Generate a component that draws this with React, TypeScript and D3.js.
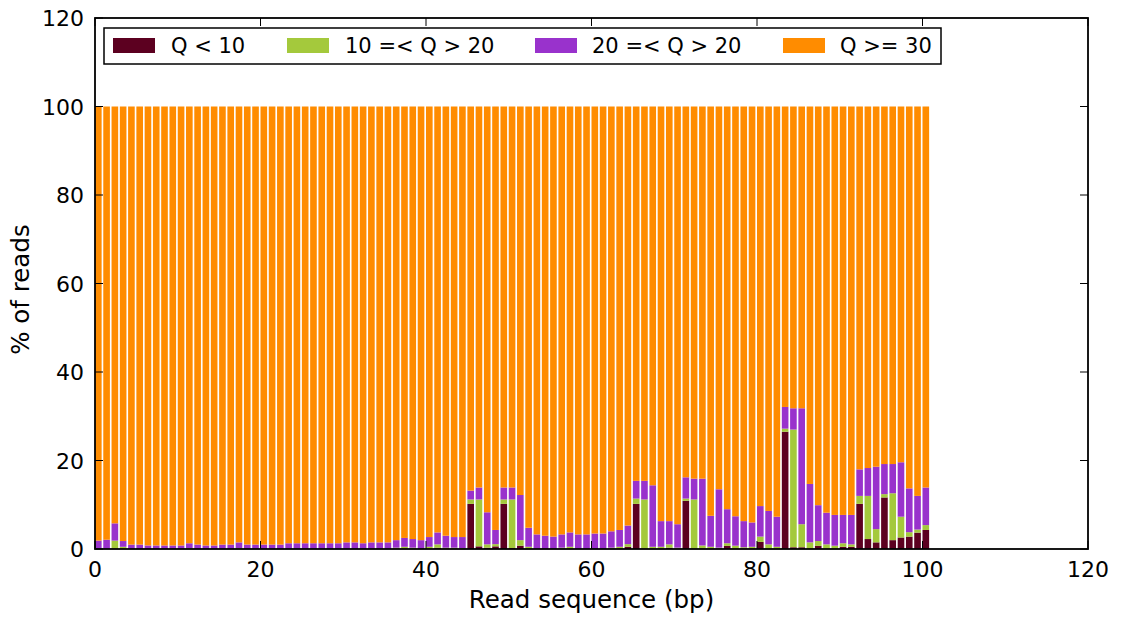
import React from "react";
import * as d3 from "d3";

const positions: number[] = [
  0,1,2,3,4,5,6,7,8,9,10,11,12,13,14,15,16,17,18,19,20,21,22,23,24,25,26,27,28,29,30,
  31,32,33,34,35,36,37,38,39,40,41,42,43,44,45,46,47,48,49,50,51,52,53,54,55,56,57,58,59,60,
  61,62,63,64,65,66,67,68,69,70,71,72,73,74,75,76,77,78,79,80,81,82,83,84,85,86,87,88,89,90,
  91,92,93,94,95,96,97,98,99,100,
];

const qLow: number[] = [
  0,0,0,0,0,0,0,0,0,0, 0,0,0,0,0,0,0,0,0,0,
  0,0,0,0,0,0,0,0,0,0, 0,0,0,0,0,0,0,0,0,0,
  0,0.3,0,0,0,10.2,0.6,0.3,0.6,10.2, 0.2,0.75,0,0,0,0,0,0,0,0,
  0,0,0,0,0.5,10.2,0,0,0,0.3, 0,10.9,0,0,0,0,0.7,0,0,0,
  1.6,0,0,26.5,0.4,0.4,0,0.7,0,0, 0.5,0.5,10.2,2.25,1.5,11.65,2.0,2.6,2.8,3.7,
  4.3,
];

const qMid: number[] = [
  0,0,1.9,0.5,0,0,0,0,0,0, 0,0.2,0,0,0,0,0,0.2,0,0,
  0,0,0,0,0,0,0,0,0,0, 0,0,0,0,0,0,0.3,0.5,0.3,0,
  0.5,0.75,0.3,0.3,0.2,1.0,10.6,0.75,0.5,1.0, 11.0,1.25,0.5,0,0,0,0.3,0.5,0,0,
  0,0,0.3,0.5,0.6,1.2,11.2,0.5,0.5,0.75, 0.3,0.5,11.2,0.8,0.5,0.3,0.6,0.75,0.4,0.5,
  1.2,1.05,0.5,0.7,26.6,5.2,1.5,1.1,1.05,0.75, 0.8,0.55,1.8,9.75,3.0,0.75,10.6,4.7,1.0,0.7,
  1.1,
];

const qHigh: number[] = [
  1.9,2.1,3.9,1.3,1.0,1.0,0.8,0.8,0.8,0.8, 0.8,1.1,1.0,0.8,0.8,1.0,1.0,1.3,1.0,1.0,
  1.0,1.0,1.0,1.3,1.3,1.3,1.3,1.3,1.3,1.3, 1.5,1.5,1.3,1.5,1.5,1.5,1.7,2.0,1.95,2.0,
  2.2,2.7,2.7,2.4,2.5,2.0,2.7,7.25,3.2,2.7, 2.7,10.2,4.3,3.3,3.0,2.8,3.0,3.25,3.3,3.3,
  3.5,3.5,3.7,3.8,4.2,4.0,4.2,13.9,5.8,5.25, 5.3,4.8,4.7,15.1,7.0,13.2,7.7,6.65,5.9,5.5,
  6.9,7.55,6.8,4.9,4.8,26.2,13.2,8.1,7.15,6.95, 6.4,6.65,6.0,6.3,14.1,6.8,6.6,12.3,9.9,7.6,
  8.5,
];

const qTop: number[] = [
  98.1,97.9,94.2,98.2,99.0,99.0,99.2,99.2,99.2,99.2, 99.2,98.7,99.0,99.2,99.2,99.0,99.0,98.5,99.0,99.0,
  99.0,99.0,99.0,98.7,98.7,98.7,98.7,98.7,98.7,98.7, 98.5,98.5,98.7,98.5,98.5,98.5,98.0,97.5,97.75,98.0,
  97.3,96.25,97.0,97.3,97.3,86.8,86.1,91.7,95.7,86.1, 86.1,87.8,95.2,96.7,97.0,97.2,96.7,96.25,96.7,96.7,
  96.5,96.5,96.0,95.7,94.7,84.6,84.6,85.6,93.7,93.7, 94.4,83.8,84.1,84.1,92.5,86.5,91.0,92.6,93.7,94.0,
  90.3,91.4,92.7,67.9,68.2,68.2,85.3,90.1,91.8,92.3, 92.3,92.3,82.0,81.7,81.4,80.8,80.8,80.4,86.3,88.0,
  86.1,
];

const seriesNames: string[] = ["Q < 10", "10 =< Q > 20", "20 =< Q > 20", "Q >= 30"];
const seriesColors: string[] = ["#5c0020", "#a4c93c", "#9932cc", "#ff8c00"];
const xTicks: number[] = [0, 20, 40, 60, 80, 100, 120];
const yTicks: number[] = [0, 20, 40, 60, 80, 100, 120];

const W = 1123;
const H = 617;
const FONT = "'DejaVu Sans', sans-serif";

export default function App() {
  const left = 95, right = 1088, top = 18, bottom = 549;
  const x = d3.scaleLinear().domain([0, 120]).range([left, right]);
  const y = d3.scaleLinear().domain([0, 120]).range([bottom, top]);
  const barW = x(0.8) - x(0);

  const keys = ["a", "b", "c", "d"];
  const rows = positions.map((p, i) => ({ pos: p, a: qLow[i], b: qMid[i], c: qHigh[i], d: qTop[i] }));
  const stacked = d3.stack<any>().keys(keys)(rows);
  const tickLen = 8;

  const legendEntries = [
    { sw: 113, tx: 171 },
    { sw: 287, tx: 345 },
    { sw: 535, tx: 592 },
    { sw: 783, tx: 840 },
  ];

  return (
    <svg width={W} height={H} style={{ position: "absolute", left: 0, top: 0, background: "#fff" }} fontFamily={FONT}>
      <rect x={0} y={0} width={W} height={H} fill="#fff" />
      {stacked.map((layer, li) => (
        <g key={li} fill={seriesColors[li]}>
          {layer.map((d, i) => (
            <rect key={i} x={x(d.data.pos)} width={barW} y={y(d[1])} height={Math.max(0, y(d[0]) - y(d[1]))} />
          ))}
        </g>
      ))}
      {xTicks.map((t) => (
        <g key={"xt" + t}>
          <line x1={x(t)} x2={x(t)} y1={bottom} y2={bottom - tickLen} stroke="#000" strokeWidth={1} />
          <line x1={x(t)} x2={x(t)} y1={top} y2={top + tickLen} stroke="#000" strokeWidth={1} />
          <text x={x(t)} y={577} textAnchor="middle" fontSize={22} fill="#000">{t}</text>
        </g>
      ))}
      {yTicks.map((t) => (
        <g key={"yt" + t}>
          <line x1={left} x2={left + tickLen} y1={y(t)} y2={y(t)} stroke="#000" strokeWidth={1} />
          <line x1={right} x2={right - tickLen} y1={y(t)} y2={y(t)} stroke="#000" strokeWidth={1} />
          <text x={84} y={y(t) + 8} textAnchor="end" fontSize={22} fill="#000">{t}</text>
        </g>
      ))}
      <rect x={left} y={top} width={right - left} height={bottom - top} fill="none" stroke="#000" strokeWidth={1.8} />
      <rect x={104} y={28} width={837} height={36} fill="#fff" stroke="#000" strokeWidth={1.5} />
      {seriesNames.map((n, i) => (
        <g key={n}>
          <rect x={legendEntries[i].sw} y={38} width={42} height={15} fill={seriesColors[i]} />
          <text x={legendEntries[i].tx} y={53} fontSize={21} fill="#000">{n}</text>
        </g>
      ))}
      <text x={(left + right) / 2} y={608} textAnchor="middle" fontSize={24.5} fill="#000">Read sequence (bp)</text>
      <text transform={`translate(29, ${(top + bottom) / 2 + 6}) rotate(-90)`} textAnchor="middle" fontSize={24.5} fill="#000">% of reads</text>
    </svg>
  );
}
